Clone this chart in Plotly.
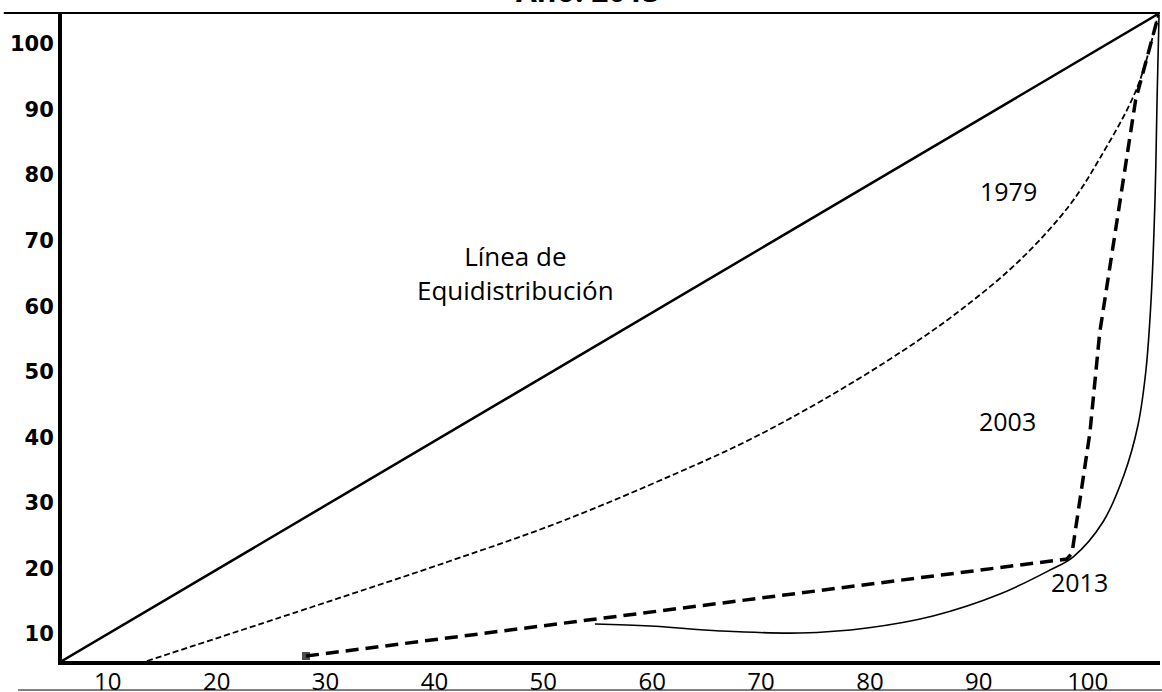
import plotly.graph_objects as go

# ---- data (axis units) ----
x_ticks = [10, 20, 30, 40, 50, 60, 70, 80, 90, 100]
y_ticks = [10, 20, 30, 40, 50, 60, 70, 80, 90, 100]
tick_labels = ["10", "20", "30", "40", "50", "60", "70", "80", "90", "100"]

eq_x = [5.8, 106.6]
eq_y = [5.9, 104.7]

c1979_x = [13.59, 28.75, 41.43, 51.53, 62.09, 69.07, 76.15, 83.13, 88.45, 93.69, 98.28, 101.13, 104.53, 106.46]
c1979_y = [5.88, 14.12, 21.13, 27.08, 34.41, 39.74, 46.15, 53.32, 59.57, 66.89, 75.28, 82.6, 93.28, 104.42]

c2003_x = [54.74, 59.8, 66.23, 73.57, 79.73, 85.79, 91.94, 96.54, 98.65, 101.4, 103.33, 104.62, 105.35, 105.82, 106.18, 106.37, 106.55]
c2003_y = [11.53, 11.22, 10.46, 10.15, 10.92, 12.75, 16.1, 19.76, 21.74, 27.08, 34.25, 41.88, 50.27, 60.95, 76.2, 91.45, 104.42]

c2013_x = [28.2, 98.1, 98.56, 99.02, 99.3, 100.2, 101.1, 102.5, 104.4, 106.5]
c2013_y = [6.64, 21.44, 22.36, 27.39, 30.44, 40.66, 55.91, 71.17, 91.45, 104.4]

labels = ["1979", "2003", "2013"]
label_x = [92.77, 92.59, 99.2]
label_y = [77.57, 42.49, 17.93]

eq_text = "Línea de<br>Equidistribución"
eq_text_x = 47.4
eq_text_y = 65.07

title_text = "Año: 2013"
title_x = 54.1
title_y = 104.7

fig = go.Figure()
fig.add_trace(go.Scatter(x=eq_x, y=eq_y, mode="lines", cliponaxis=False,
                         line=dict(color="black", width=2.5), showlegend=False, hoverinfo="skip"))
fig.add_trace(go.Scatter(x=c1979_x, y=c1979_y, mode="lines", cliponaxis=False,
                         line=dict(color="black", width=1.8, dash="6px,3px", shape="spline", smoothing=1.0),
                         showlegend=False, hoverinfo="skip"))
fig.add_trace(go.Scatter(x=c2003_x, y=c2003_y, mode="lines", cliponaxis=False,
                         line=dict(color="black", width=1.6, shape="spline", smoothing=1.0),
                         showlegend=False, hoverinfo="skip"))
fig.add_trace(go.Scatter(x=c2013_x, y=c2013_y, mode="lines+markers", cliponaxis=False,
                         line=dict(color="black", width=3.5, dash="13px,7px"),
                         marker=dict(color="black", size=[8] + [0] * (len(c2013_x) - 1), symbol="square",
                                     line=dict(width=0)),
                         showlegend=False, hoverinfo="skip"))

ann = []
for t, x, y in zip(labels, label_x, label_y):
    ann.append(dict(x=x, y=y, text=t, showarrow=False, xanchor="center", yanchor="middle",
                    font=dict(family="Open Sans", size=25, color="black")))
ann.append(dict(x=eq_text_x, y=eq_text_y, text=eq_text, showarrow=False, xanchor="center",
                yanchor="middle", align="center",
                font=dict(family="Open Sans", size=26, color="black")))
ann.append(dict(x=title_x, y=title_y, text="<b>" + title_text + "</b>", yshift=0,
                showarrow=False, xanchor="center", yanchor="bottom",
                font=dict(family="Open Sans", size=30, color="black")))

shapes = [
    dict(type="line", xref="paper", yref="paper", x0=-0.053, x1=1.0, y0=1.0, y1=1.0,
         line=dict(color="black", width=2)),
    dict(type="line", xref="paper", yref="paper", x0=-0.04, x1=1.002, y0=-0.0448, y1=-0.0448,
         line=dict(color="black", width=1)),
]

fig.update_layout(
    width=1162, height=692,
    margin=dict(l=62, r=2, t=13, b=31, pad=0),
    plot_bgcolor="white", paper_bgcolor="white",
    annotations=ann, shapes=shapes,
    xaxis=dict(range=[5.79, 106.64], tickvals=x_ticks, ticktext=tick_labels, automargin=False,
               showgrid=False, zeroline=False, showline=True, linecolor="black", linewidth=4,
               ticks="", ticklabelstandoff=-4,
               tickfont=dict(family="Open Sans", size=24, color="black")),
    yaxis=dict(range=[5.88, 104.72], tickvals=y_ticks, ticktext=tick_labels, automargin=False,
               showgrid=False, zeroline=False, showline=True, linecolor="black", linewidth=4,
               ticks="", tickfont=dict(family="DejaVu Sans", size=21, color="black", weight="bold")),
)

fig.write_html("out.html", config={"displayModeBar": False},
               post_script="document.body.style.margin='0';document.body.style.overflow='hidden';")
